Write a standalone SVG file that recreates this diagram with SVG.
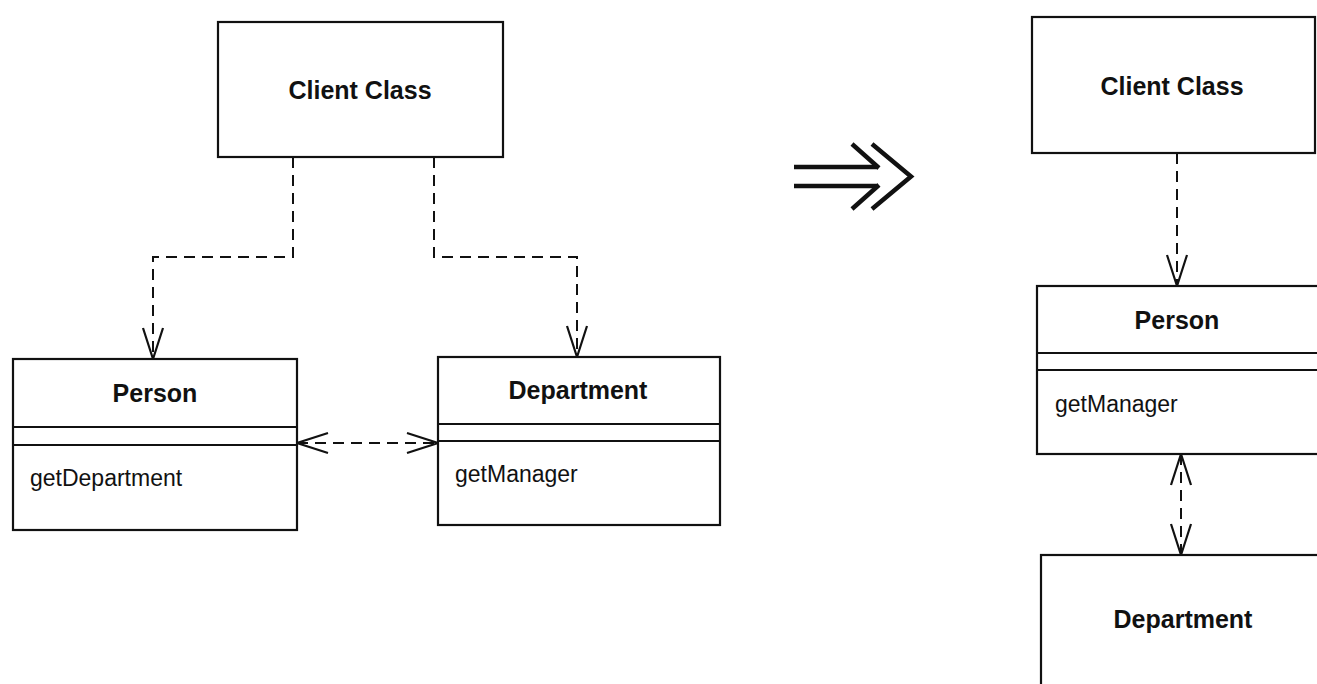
<svg xmlns="http://www.w3.org/2000/svg" width="1317" height="684" viewBox="0 0 1317 684">
<style>
.box{fill:#fff;stroke:#111;stroke-width:2.2}
.div{stroke:#111;stroke-width:2.2}
.name{font-family:"Liberation Sans",Arial,sans-serif;font-weight:bold;font-size:25px;fill:#111;text-anchor:middle}
.op{font-family:"Liberation Sans",Arial,sans-serif;font-size:23px;fill:#111}
.dep{fill:none;stroke:#111;stroke-width:2;stroke-dasharray:11,7}
</style>
<defs>
<marker id="open" markerUnits="userSpaceOnUse" markerWidth="40" markerHeight="30" viewBox="-34 -15 40 30" refX="0" refY="0" orient="auto-start-reverse">
<path d="M-31,-10 L0,0 L-31,10" fill="none" stroke="#111" stroke-width="2.2" stroke-dasharray="none"/>
</marker>
</defs>
<rect width="1317" height="684" fill="#fff"/>

<g id="connectors">
<path class="dep" d="M293,157 V257 H153 V359" marker-end="url(#open)"/>
<path class="dep" d="M434,157 V257 H577 V357" marker-end="url(#open)"/>
<path class="dep" d="M297,443 H438" marker-start="url(#open)" marker-end="url(#open)"/>
<path class="dep" d="M1177,153 V286" marker-end="url(#open)"/>
<path class="dep" d="M1181,454 V555" marker-start="url(#open)" marker-end="url(#open)"/>
</g>

<g id="left-client">
<rect class="box" x="218" y="22" width="285" height="135"/>
<text class="name" x="360" y="99">Client Class</text>
</g>
<g id="left-person">
<rect class="box" x="13" y="359" width="284" height="171"/>
<line class="div" x1="13" y1="427" x2="297" y2="427"/>
<line class="div" x1="13" y1="445" x2="297" y2="445"/>
<text class="name" x="155" y="402">Person</text>
<text class="op" x="30" y="486">getDepartment</text>
</g>
<g id="left-department">
<rect class="box" x="438" y="357" width="282" height="168"/>
<line class="div" x1="438" y1="424" x2="720" y2="424"/>
<line class="div" x1="438" y1="441" x2="720" y2="441"/>
<text class="name" x="578" y="399">Department</text>
<text class="op" x="455" y="482">getManager</text>
</g>

<g id="transform-arrow" fill="none" stroke="#111" stroke-width="4.5" stroke-linecap="butt">
<line x1="794" y1="167" x2="878" y2="167"/>
<line x1="794" y1="186" x2="878" y2="186"/>
<path d="M852,144 L879,168"/>
<path d="M852,209 L879,185"/>
<path d="M872,144 L911,176.5 L872,209"/>
</g>

<g id="right-client">
<rect class="box" x="1032" y="17" width="283" height="136"/>
<text class="name" x="1172" y="95">Client Class</text>
</g>
<g id="right-person">
<rect class="box" x="1037" y="286" width="290" height="168"/>
<line class="div" x1="1037" y1="353" x2="1317" y2="353"/>
<line class="div" x1="1037" y1="370" x2="1317" y2="370"/>
<text class="name" x="1177" y="329">Person</text>
<text class="op" x="1055" y="412">getManager</text>
</g>
<g id="right-department">
<rect class="box" x="1041" y="555" width="290" height="150"/>
<text class="name" x="1183" y="628">Department</text>
</g>
</svg>
